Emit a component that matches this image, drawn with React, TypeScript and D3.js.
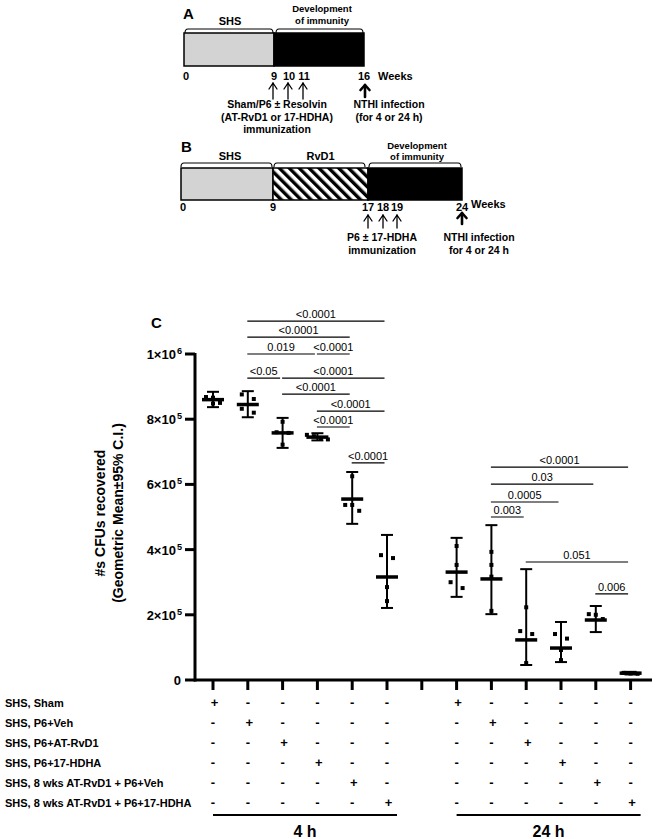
import React from 'react';
import * as d3 from 'd3';

// ---------- Data ----------
const conditions = [
  'SHS, Sham',
  'SHS, P6+Veh',
  'SHS, P6+AT-RvD1',
  'SHS, P6+17-HDHA',
  'SHS, 8 wks AT-RvD1 + P6+Veh',
  'SHS, 8 wks AT-RvD1 + P6+17-HDHA',
];
const timepoints = ['4 h', '24 h'];

const geoMean4h = [860000, 845000, 758000, 745000, 555000, 316000];
const ciLow4h = [837000, 806000, 712000, 735000, 479000, 221000];
const ciHigh4h = [884000, 886000, 804000, 757000, 638000, 445000];
const points4h = [
  [868000, 866000, 850000, 848000],
  [876000, 862000, 832000, 820000],
  [792000, 758000, 722000, 760000],
  [752000, 748000, 741000, 738000],
  [625000, 537000, 537000, 519000],
  [383000, 374000, 285000, 242000],
];

const geoMean24h = [331000, 310000, 123000, 98000, 184000, 21000];
const ciLow24h = [255000, 202000, 46000, 55000, 147000, 17000];
const ciHigh24h = [436000, 475000, 340000, 178000, 227000, 25000];
const points24h = [
  [411000, 353000, 300000, 282000],
  [393000, 353000, 317000, 212000],
  [223000, 150000, 141000, 52000],
  [141000, 127000, 92000, 61000],
  [202000, 200000, 187000],
  [22000, 20000, 19000],
];

const yTickValues = [0, 200000, 400000, 600000, 800000, 1000000];

// significance comparisons (slot indices; 4h = 0..5, 24h = 7..12)
const sigFrom = [1, 1, 1, 3, 1, 2, 2, 3, 3, 4, 8, 8, 8, 8, 9, 11];
const sigTo = [5, 4, 3, 4, 2, 5, 4, 5, 4, 5, 12, 11, 10, 9, 12, 12];
const sigLabels = ['<0.0001', '<0.0001', '0.019', '<0.0001', '<0.05', '<0.0001', '<0.0001', '<0.0001', '<0.0001', '<0.0001',
  '<0.0001', '0.03', '0.0005', '0.003', '0.051', '0.006'];
const sigLevels = [1101000, 1052000, 1000000, 1000000, 926000, 926000, 877000, 825000, 776000, 666000,
  653000, 601000, 546000, 500000, 362000, 264000];

// schematic A
const weeksA = [0, 9, 10, 11, 16];
const immunizationWeeksA = [9, 10, 11];
const infectionWeekA = 16;
// schematic B
const weeksB = [0, 9, 17, 18, 19, 24];
const immunizationWeeksB = [17, 18, 19];
const infectionWeekB = 24;

const FONT = "'Liberation Sans', Arial, Helvetica, sans-serif";

// GraphPad-like scatter: points close in y are spread symmetrically around the center
function swarm(values: number[], cx: number, y: (v: number) => number, thresh = 6) {
  const ys = [...values].map(y).sort((a, b) => a - b);
  const bins: number[][] = [];
  for (const py of ys) {
    const last = bins[bins.length - 1];
    if (last && py - last[0] < thresh) last.push(py);
    else bins.push([py]);
  }
  const out: { x: number; y: number }[] = [];
  for (const b of bins) {
    const n = b.length;
    const step = n === 2 ? 12 : 7;
    b.forEach((py, i) => out.push({ x: cx + (i - (n - 1) / 2) * step, y: py }));
  }
  return out;
}

function Arrow({ x, y1, y2, thick }: { x: number; y1: number; y2: number; thick?: boolean }) {
  const w = thick ? 2.6 : 1.3;
  const hw = thick ? 4.5 : 4;
  const hh = thick ? 5 : 6;
  return (
    <g stroke="#000" strokeWidth={w} fill="none" strokeLinecap="round" strokeLinejoin="round">
      <line x1={x} y1={y2} x2={x} y2={y1} />
      <polyline points={`${x - hw},${y1 + hh} ${x},${y1} ${x + hw},${y1 + hh}`} />
    </g>
  );
}

function Brace({ x1, x2, y }: { x1: number; x2: number; y: number }) {
  return (
    <path
      d={`M${x1},${y + 4} Q${x1},${y} ${x1 + 3},${y} L${x2 - 3},${y} Q${x2},${y} ${x2},${y + 4}`}
      fill="none"
      stroke="#000"
      strokeWidth={1.1}
    />
  );
}

function Sup({ x, y, m, e, size }: { x: number; y: number; m: string; e: string; size: number }) {
  return (
    <text x={x} y={y} textAnchor="end" fontSize={size} fontWeight="bold" fontFamily={FONT}>
      {m}
      <tspan fontSize={size * 0.7} dy={-5} dx={1}>{e}</tspan>
    </text>
  );
}

export default function App() {
  const W = 659, H = 839;

  const x = d3.scalePoint<number>().domain(d3.range(13)).range([213, 630.6]);
  const y = d3.scaleLinear().domain([0, 1000000]).range([680, 354]);

  const groups = [
    ...geoMean4h.map((m, i) => ({ slot: i, mean: m, lo: ciLow4h[i], hi: ciHigh4h[i], pts: points4h[i] })),
    ...geoMean24h.map((m, i) => ({ slot: i + 7, mean: m, lo: ciLow24h[i], hi: ciHigh24h[i], pts: points24h[i] })),
  ];

  const xA = d3.scaleLinear().domain(weeksA).range([184, 274, 289, 304, 364]);
  const xB = d3.scaleLinear().domain(weeksB).range([181, 273, 368, 383, 397, 462]);

  const fmtTick = (v: number) => {
    if (v === 0) return { m: '0', e: '' };
    const e = Math.floor(Math.log10(v));
    const m = Math.round(v / Math.pow(10, e));
    return { m: `${m}×10`, e: `${e}` };
  };

  return (
    <svg width={W} height={H} style={{ position: 'absolute', left: 0, top: 0, background: '#fff' }} fontFamily={FONT}>
      <defs>
        <pattern id="hatch" width="7" height="7" patternUnits="userSpaceOnUse" patternTransform="rotate(-45)">
          <rect width="7" height="7" fill="#fff" />
          <rect x="0" y="0" width="3.4" height="7" fill="#000" />
        </pattern>
      </defs>

      {/* ---------- Panel A ---------- */}
      <text x={183} y={19} fontSize={15} fontWeight="bold">A</text>
      <Brace x1={xA(0) + 1} x2={xA(9) - 1} y={29} />
      <Brace x1={xA(9) + 2} x2={xA(16) - 1} y={29} />
      <text x={(xA(0) + xA(9)) / 2 + 1} y={25} fontSize={11} fontWeight="bold" textAnchor="middle">SHS</text>
      <text x={(xA(9) + xA(16)) / 2 + 3} y={12} fontSize={9.5} fontWeight="bold" textAnchor="middle">Development</text>
      <text x={(xA(9) + xA(16)) / 2 + 3} y={24} fontSize={9.5} fontWeight="bold" textAnchor="middle">of immunity</text>
      <rect x={xA(0)} y={33} width={xA(9) - xA(0)} height={33} fill="#d3d3d3" stroke="#000" strokeWidth={1.5} />
      <rect x={xA(9)} y={33} width={xA(16) - xA(9)} height={33} fill="#000" stroke="#000" strokeWidth={1.5} />
      {weeksA.map((w) => (
        <text key={w} x={xA(w) + (w === 0 ? 2 : 0)} y={80} fontSize={11} fontWeight="bold" textAnchor="middle">{w}</text>
      ))}
      <text x={378} y={80} fontSize={11} fontWeight="bold">Weeks</text>
      {immunizationWeeksA.map((w) => (
        <Arrow key={w} x={xA(w) - 1} y1={83} y2={99} />
      ))}
      <Arrow x={xA(infectionWeekA) + 1} y1={85} y2={97} thick />
      <text x={277} y={108} fontSize={10.5} fontWeight="bold" textAnchor="middle">Sham/P6 ± Resolvin</text>
      <text x={277} y={121} fontSize={10.5} fontWeight="bold" textAnchor="middle">(AT-RvD1 or 17-HDHA)</text>
      <text x={277} y={133} fontSize={10.5} fontWeight="bold" textAnchor="middle">immunization</text>
      <text x={389} y={108} fontSize={10.5} fontWeight="bold" textAnchor="middle">NTHI infection</text>
      <text x={389} y={121} fontSize={10.5} fontWeight="bold" textAnchor="middle">(for 4 or 24 h)</text>

      {/* ---------- Panel B ---------- */}
      <text x={181} y={152} fontSize={15} fontWeight="bold">B</text>
      <Brace x1={xB(0)} x2={xB(9) - 1} y={163} />
      <Brace x1={xB(9) + 1} x2={xB(17) - 3} y={163} />
      <Brace x1={xB(17) + 1} x2={xB(24) - 1} y={163} />
      <text x={(xB(0) + xB(9)) / 2 + 3} y={160} fontSize={11} fontWeight="bold" textAnchor="middle">SHS</text>
      <text x={(xB(9) + xB(17)) / 2} y={160} fontSize={11} fontWeight="bold" textAnchor="middle">RvD1</text>
      <text x={(xB(17) + xB(24)) / 2 + 2} y={149} fontSize={9.5} fontWeight="bold" textAnchor="middle">Development</text>
      <text x={(xB(17) + xB(24)) / 2 + 2} y={160} fontSize={9.5} fontWeight="bold" textAnchor="middle">of immunity</text>
      <rect x={xB(0)} y={168} width={xB(9) - xB(0)} height={32} fill="#d3d3d3" stroke="#000" strokeWidth={1.5} />
      <rect x={xB(9)} y={168} width={xB(17) - xB(9)} height={32} fill="url(#hatch)" stroke="#000" strokeWidth={1.5} />
      <rect x={xB(17)} y={168} width={xB(24) - xB(17)} height={32} fill="#000" stroke="#000" strokeWidth={1.5} />
      {weeksB.map((w) => (
        <text key={w} x={xB(w) + (w === 0 ? 2 : 0)} y={211} fontSize={11} fontWeight="bold" textAnchor="middle">{w}</text>
      ))}
      <text x={471} y={208} fontSize={11} fontWeight="bold">Weeks</text>
      {immunizationWeeksB.map((w) => (
        <Arrow key={w} x={xB(w)} y1={215} y2={228} />
      ))}
      <Arrow x={xB(infectionWeekB)} y1={213} y2={224} thick />
      <text x={382} y={241} fontSize={10.5} fontWeight="bold" textAnchor="middle">P6 ± 17-HDHA</text>
      <text x={382} y={254} fontSize={10.5} fontWeight="bold" textAnchor="middle">immunization</text>
      <text x={479} y={241} fontSize={10.5} fontWeight="bold" textAnchor="middle">NTHI infection</text>
      <text x={479} y={254} fontSize={10.5} fontWeight="bold" textAnchor="middle">for 4 or 24 h</text>

      {/* ---------- Panel C ---------- */}
      <text x={151} y={328} fontSize={15} fontWeight="bold">C</text>

      {/* y axis label */}
      <g transform={`translate(105, 513) rotate(-90)`}>
        <text x={0} y={0} fontSize={14} fontWeight="bold" textAnchor="middle">#s CFUs recovered</text>
        <text x={0} y={18} fontSize={14} fontWeight="bold" textAnchor="middle">(Geometric Mean±95% C.I.)</text>
      </g>

      {/* y axis */}
      <line x1={195} x2={195} y1={y(1000000) - 1} y2={y(0) + 1.5} stroke="#000" strokeWidth={3} />
      {yTickValues.map((v) => {
        const t = fmtTick(v);
        return (
          <g key={v}>
            <line x1={185} x2={195} y1={y(v)} y2={y(v)} stroke="#000" strokeWidth={3} />
            {t.e ? (
              <Sup x={182} y={y(v) + 5} m={t.m} e={t.e} size={13} />
            ) : (
              <text x={181} y={y(v) + 5} textAnchor="end" fontSize={13} fontWeight="bold">{t.m}</text>
            )}
          </g>
        );
      })}

      {/* x axis */}
      <line x1={194} x2={652} y1={y(0)} y2={y(0)} stroke="#000" strokeWidth={3} />
      {d3.range(13).map((s) => (
        <line key={s} x1={x(s)!} x2={x(s)!} y1={y(0)} y2={y(0) + 10} stroke="#000" strokeWidth={3} />
      ))}

      {/* significance brackets */}
      {sigFrom.map((a, i) => {
        const x1 = x(a)! - 0.5;
        const x2 = x(sigTo[i])! - 2.5;
        const ly = y(sigLevels[i]);
        return (
          <g key={i}>
            <line x1={x1} x2={x2} y1={ly} y2={ly} stroke="#000" strokeWidth={1.2} />
            <text x={(x1 + x2) / 2} y={ly - 3} fontSize={11} textAnchor="middle">{sigLabels[i]}</text>
          </g>
        );
      })}

      {/* groups */}
      {groups.map((g) => {
        const cx = x(g.slot)!;
        const pts = swarm(g.pts, cx, y);
        return (
          <g key={g.slot}>
            <line x1={cx} x2={cx} y1={y(g.hi)} y2={y(g.lo)} stroke="#000" strokeWidth={2} />
            <line x1={cx - 6} x2={cx + 6} y1={y(g.hi)} y2={y(g.hi)} stroke="#000" strokeWidth={2} />
            <line x1={cx - 6} x2={cx + 6} y1={y(g.lo)} y2={y(g.lo)} stroke="#000" strokeWidth={2} />
            {pts.map((p, j) => (
              <rect key={j} x={p.x - 2} y={p.y - 2} width={4} height={4} fill="#000" />
            ))}
            <line x1={cx - 11} x2={cx + 11} y1={y(g.mean)} y2={y(g.mean)} stroke="#000" strokeWidth={3.5} />
          </g>
        );
      })}

      {/* condition table */}
      {conditions.map((c, r) => {
        const ry = 707 + r * 20;
        return (
          <g key={c}>
            <text x={5} y={ry} fontSize={11} fontWeight="bold">{c}</text>
            {timepoints.map((_, t) =>
              conditions.map((__, k) => {
                const slot = t * 7 + k;
                const plus = k === r;
                return (
                  <text key={`${t}-${k}`} x={x(slot)! + (plus ? 1.5 : 0)} y={ry} fontSize={13} fontWeight="bold" textAnchor="middle">
                    {plus ? '+' : '-'}
                  </text>
                );
              })
            )}
          </g>
        );
      })}

      {/* timepoint lines */}
      {timepoints.map((tp, t) => {
        const x1 = x(t * 7)!;
        const x2 = x(t * 7 + 5)! + 10;
        return (
          <g key={tp}>
            <line x1={x1} x2={x2} y1={815} y2={815} stroke="#000" strokeWidth={2} />
            <text x={(x1 + x2) / 2} y={837} fontSize={16} fontWeight="bold" textAnchor="middle">{tp}</text>
          </g>
        );
      })}
    </svg>
  );
}
